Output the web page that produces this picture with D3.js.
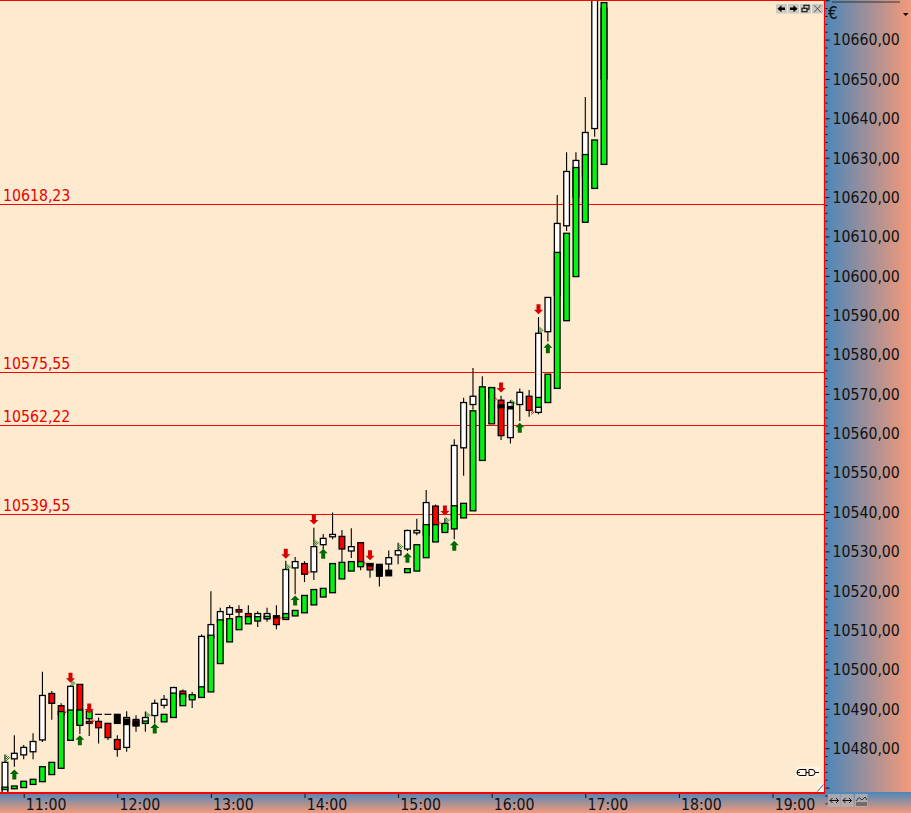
<!DOCTYPE html>
<html>
<head>
<meta charset="utf-8">
<style>
html,body{margin:0;padding:0;background:#fdeacf;overflow:hidden}
svg{display:block}
text{font-family:"DejaVu Sans Condensed","DejaVu Sans",sans-serif;font-stretch:condensed}
</style>
<script src="https://cdn.jsdelivr.net/npm/d3@7"></script>
</head>
<body>
<div id="chart"></div>
<script>
// Candle series 1 (with wicks): white up, red down
const s1Open  = [10468,10477.3,10478.3,10479.1,10482.1,10493.9,10490.8,10486,10496.2,10486.8,
                 10486.8,10486.3,10482.2,10480.2,10487.3,10486.5,10488.3,10490.9,10493,10494.5,
                 10493,10494,10508,10512,10514,10515.2,10514.2,10513.4,10512.9,10513.6,
                 10512.7,10525.8,10526.9,10524.8,10531.7,10533.7,10533.8,10530.1,10532.2,10526.9,
                 10526,10526.8,10529.1,10530.6,10534.7,10534,10541.5,10535.5,10538,10556.3,
                 10567.3,10566,10569,10568.4,10558.9,10567.3,10569.4,10565.3,10585.8,10595,
                 10612.7,10620,10625,10637.4,10650];
const s1High  = [10478.4,10483.3,10480.8,10483.8,10499.4,10494.5,10491.4,10496,10496.2,10489.7,
                 10487.8,10486.3,10483.3,10489.4,10488.4,10489.3,10492.4,10493.5,10495.6,10494.9,
                 10494.3,10508.9,10519.9,10515.7,10516.3,10516.3,10516.3,10514.8,10515.7,10516.3,
                 10527.6,10528.6,10527.5,10536,10534.4,10539.9,10535.4,10535.9,10532.2,10526.9,
                 10526.7,10530.2,10532.2,10535.5,10538.3,10545.6,10541.9,10538.4,10558.5,10569,
                 10576.6,10574.5,10571.6,10569.5,10568.4,10571.4,10571,10589.5,10594.5,10620.5,
                 10631.4,10631.4,10645.4,10675,10669];
const s1Low   = [10467,10475.3,10477.2,10477.2,10481.6,10487.2,10488,10486,10483.6,10483.1,
                 10481.2,10482.1,10477.8,10479.1,10484.2,10484.2,10486.3,10490.1,10492,10491,
                 10490.2,10493,10507,10511,10512.9,10513.4,10512,10510.8,10512.1,10510.2,
                 10512.7,10519.1,10522.2,10522.7,10530.6,10533.1,10527.2,10528.3,10525.2,10523.3,
                 10521.1,10524,10526.7,10530.1,10534.1,10533,10535,10534.8,10533.1,10549.2,
                 10566,10565,10568,10558.3,10557.4,10563.1,10564.2,10564.8,10583.3,10594,
                 10611.4,10619,10624,10635.3,10649];
const s1Close = [10476.4,10478.7,10480.2,10481.7,10493.4,10491.4,10488.5,10495.7,10486,10486.3,
                 10485.2,10482.7,10479.7,10487.8,10485.7,10487.8,10491.4,10492.4,10495.4,10493,
                 10493.3,10508.4,10511.4,10514.7,10515.7,10514.6,10513.4,10514.2,10514.2,10511.4,
                 10525.4,10527.4,10524.2,10531.2,10533.3,10534.3,10530.6,10531.2,10527,10525.3,
                 10525,10528.4,10530.2,10535.3,10535.3,10542.4,10536,10537,10556.9,10567.8,
                 10569.4,10571,10571.6,10559.4,10567.8,10570.4,10565.8,10585.4,10594.5,10613.3,
                 10626.5,10629.3,10636.4,10672,10668];
// Candle series 2 (no wicks): green up, black down
const s2Open  = [10469.5,10469.7,10470,10470.8,10471.5,10473.3,10474.9,10482,10485.8,10487.5,
                 10488.6,10488.6,10488.6,10487.4,10486.9,10486.3,10486.7,10486.7,10487.8,10490.8,
                 10492.3,10492.9,10494.3,10501.5,10507,10510.1,10511.6,10512.3,10512.9,10513.6,
                 10513.1,10513.6,10514.4,10516.4,10518.4,10519.5,10523,10525,10526.1,10526.9,
                 10526.7,10525.2,10524.8,10524.6,10525,10528.4,10532.4,10534.8,10535.7,10538.5,
                 10540.3,10553.1,10562.4,10567.2,10566.8,10566.4,10566.4,10566.6,10567.8,10571.4,
                 10588.6,10599.8,10613.6,10622.2,10628.3];
const s2Close = [10470.1,10470.4,10471.6,10472.1,10475.3,10476.4,10489.3,10489.7,10489.7,10489.4,
                 10488.6,10488.6,10486.3,10486,10485.7,10486.9,10486.7,10488.6,10494,10493.8,
                 10493.6,10495.6,10508.7,10512.6,10512.9,10513.4,10513.4,10513.4,10513.5,10513.1,
                 10514.2,10515,10518.8,10520.3,10520.6,10526.9,10527.2,10527.4,10527.4,10526.3,
                 10523.7,10523.8,10524.8,10525.6,10531.7,10536.8,10536.8,10537.1,10541.6,10542.2,
                 10565.7,10571.8,10571.6,10566.5,10566.2,10566.4,10566.4,10569.1,10575,10605.95,
                 10610.8,10627.5,10630.8,10634.5,10669.4];

// Signal arrows and small chequered markers: bar index and price
const upArrowBars     = [1,8,16,31,34,43,48,55,58];
const upArrowPrices   = [10473.3,10482,10485,10517.5,10529.4,10528.4,10531.4,10561.4,10581.6];
const downArrowBars   = [7,9,30,33,39,47,53,57];
const downArrowPrices = [10497.9,10490.1,10529.4,10538.1,10529,10540.4,10571.6,10591.5];
const greenMarkBars   = [0,7,15,30,33,42,47,54,57];
const greenMarkPrices = [10477.5,10496.5,10488.4,10526,10532.1,10531.1,10537.9,10567.7,10586.2];
const redMarkBars     = [6,9,29,32,38,46,52,56];
const redMarkPrices   = [10489.2,10486.9,10513.1,10524.7,10527,10537.2,10568.7,10565.4];

// Horizontal levels and their captions
const levelValues = [10618.23,10575.55,10562.22,10539.55];
const levelLabels = ["10618,23","10575,55","10562,22","10539,55"];

// Axis ticks
const hourLabels = ["11:00","12:00","13:00","14:00","15:00","16:00","17:00","18:00","19:00"];
const priceTicks = d3.range(10480,10661,10);

const W=911,H=813,plotR=824,plotB=792;
const fontName='"DejaVu Sans Condensed","DejaVu Sans",sans-serif';
const t0=new Date(Date.UTC(2020,0,1,11,0));
const barTime=i=>d3.utcMinute.offset(t0,(i-2)*6);
const hourTimes=hourLabels.map(h=>new Date(Date.UTC(2020,0,1,+h.slice(0,2),0)));
const x=d3.scaleUtc().domain([t0,hourTimes[8]]).range([23.7,772.5]);
const y=d3.scaleLinear().domain([10480,10660]).range([748.2,39.6]);

const svg=d3.select("#chart").append("svg").attr("width",W).attr("height",H);
const defs=svg.append("defs");
const gh=defs.append("linearGradient").attr("id","gh").attr("x1",0).attr("x2",1).attr("y1",0).attr("y2",0);
gh.append("stop").attr("offset",0).attr("stop-color","#4a86ba");
gh.append("stop").attr("offset",1).attr("stop-color","#f59a78");
const gv=defs.append("linearGradient").attr("id","gv").attr("x1",0).attr("x2",0).attr("y1",0).attr("y2",1);
gv.append("stop").attr("offset",0).attr("stop-color","#4a86ba");
gv.append("stop").attr("offset",1).attr("stop-color","#f59a78");
defs.append("clipPath").attr("id","plot").append("rect").attr("width",plotR).attr("height",plotB);
["#007a00","#e00000"].forEach((c,k)=>{
  const p=defs.append("pattern").attr("id","chk"+k).attr("width",2).attr("height",2).attr("patternUnits","userSpaceOnUse");
  p.append("rect").attr("width",1).attr("height",1).attr("fill",c);
  p.append("rect").attr("x",1).attr("y",1).attr("width",1).attr("height",1).attr("fill",c);
});

svg.append("rect").attr("width",plotR).attr("height",plotB).attr("fill","#fdeacf");
svg.append("rect").attr("x",plotR).attr("width",W-plotR).attr("height",plotB+1).attr("fill","url(#gh)");
svg.append("rect").attr("y",plotB).attr("width",W).attr("height",H-plotB).attr("fill","url(#gv)");

const plot=svg.append("g").attr("clip-path","url(#plot)");

// level lines
plot.selectAll("line.level").data(levelValues).join("line").attr("class","level")
  .attr("x1",0).attr("x2",plotR).attr("y1",d=>Math.round(y(d))+.5).attr("y2",d=>Math.round(y(d))+.5)
  .attr("stroke","#ff0000").attr("stroke-width",1);
svg.selectAll("text.level").data(levelLabels).join("text").attr("class","level")
  .attr("x",3).attr("y",(d,i)=>y(levelValues[i])-3)
  .attr("fill","#e80000").attr("font-size",15.7).text(d=>d);

const idx=d3.range(s1Open.length);
const bw=5.7;
// wicks
plot.selectAll("line.wick").data(idx).join("line").attr("class","wick")
  .attr("x1",i=>x(barTime(i))).attr("x2",i=>x(barTime(i)))
  .attr("y1",i=>y(s1High[i])).attr("y2",i=>y(s1Low[i]))
  .attr("stroke","#000").attr("stroke-width",1.1);
// series 1 bodies
plot.selectAll("rect.s1").data(idx).join("rect").attr("class","s1")
  .attr("x",i=>x(barTime(i))-bw/2).attr("width",bw)
  .attr("y",i=>y(Math.max(s1Open[i],s1Close[i])))
  .attr("height",i=>Math.abs(y(s1Open[i])-y(s1Close[i])))
  .attr("fill",i=>s1Close[i]>=s1Open[i]?"#ffffff":"#ff0000")
  .attr("stroke","#000").attr("stroke-width",1.3);
// series 2 bodies
plot.selectAll("rect.s2").data(idx).join("rect").attr("class","s2")
  .attr("x",i=>x(barTime(i))-bw/2).attr("width",bw)
  .attr("y",i=>y(Math.max(s2Open[i],s2Close[i])))
  .attr("height",i=>Math.abs(y(s2Open[i])-y(s2Close[i])))
  .attr("fill",i=>s2Close[i]>s2Open[i]?"#00f410":"#000000")
  .attr("stroke",i=>s2Close[i]===s2Open[i]&&i<12?"none":"#000").attr("stroke-width",1.3);
// doji pair
plot.selectAll("line.doji").data(idx.filter(i=>s2Open[i]===s2Close[i]&&i<12)).join("line").attr("class","doji")
  .attr("x1",i=>x(barTime(i))-bw/2-.6).attr("x2",i=>x(barTime(i))+bw/2+.6)
  .attr("y1",i=>y(s2Open[i])).attr("y2",i=>y(s2Open[i]))
  .attr("stroke","#000").attr("stroke-width",1.2);

// arrows
const upPath="M0,-5 L4.5,-0.5 L2,-0.5 L2,5 L-2,5 L-2,-0.5 L-4.5,-0.5 Z";
const dnPath="M0,5 L4.5,0.5 L2,0.5 L2,-5 L-2,-5 L-2,0.5 L-4.5,0.5 Z";
plot.selectAll("path.up").data(upArrowBars).join("path").attr("class","up")
  .attr("d",upPath).attr("fill","#006a00")
  .attr("transform",(b,k)=>`translate(${x(barTime(b))},${y(upArrowPrices[k])})`);
plot.selectAll("path.dn").data(downArrowBars).join("path").attr("class","dn")
  .attr("d",dnPath).attr("fill","#d80000")
  .attr("transform",(b,k)=>`translate(${x(barTime(b))},${y(downArrowPrices[k])})`);
// chequered markers
plot.selectAll("path.gm").data(greenMarkBars).join("path").attr("class","gm")
  .attr("d","M-2.5,-4 L2.5,0 L-2.5,4 Z").attr("fill","url(#chk0)")
  .attr("transform",(b,k)=>`translate(${x(barTime(b))+3},${y(greenMarkPrices[k])})`);
plot.selectAll("path.rm").data(redMarkBars).join("path").attr("class","rm")
  .attr("d","M-2,-3 L2,0 L-2,3 Z").attr("fill","url(#chk1)")
  .attr("transform",(b,k)=>`translate(${x(barTime(b))+4},${y(redMarkPrices[k])})`);

// plot frame
svg.append("line").attr("x1",0).attr("x2",plotR+1).attr("y1",.5).attr("y2",.5).attr("stroke","#ff0000");
svg.append("line").attr("x1",plotR+.5).attr("x2",plotR+.5).attr("y1",0).attr("y2",plotB+2).attr("stroke","#ff0000").attr("stroke-width",1.2);
svg.append("line").attr("x1",0).attr("x2",plotR+1).attr("y1",plotB+1).attr("y2",plotB+1).attr("stroke","#ff0000").attr("stroke-width",2);

// price axis
const minorTicks=d3.range(10466,10672,2).filter(v=>v%10!==0);
const yMinor=d3.axisRight(y).tickValues(minorTicks).tickSize(2).tickFormat("");
svg.append("g").attr("transform",`translate(${plotR+1.5},0)`).call(yMinor)
  .call(g=>g.select(".domain").remove()).selectAll("line").attr("stroke","#111");
const yMajor=d3.axisRight(y).tickValues(d3.range(10470,10671,10)).tickSize(4)
  .tickPadding(2)
  .tickFormat(d=>priceTicks.includes(d)?d3.format(".2f")(d).replace(".",","):"");
const yg=svg.append("g").attr("transform",`translate(${plotR+1.5},0)`).call(yMajor);
yg.select(".domain").remove();
yg.selectAll("line").attr("stroke","#111");
yg.selectAll("text").attr("font-family",fontName).attr("font-size",15.7).attr("fill","#111").attr("x",7).attr("dy","0.34em");

// time axis
const xa=d3.axisBottom(x).tickValues(hourTimes).tickSize(4).tickPadding(2).tickFormat((d,i)=>hourLabels[i]);
const xg=svg.append("g").attr("transform",`translate(0,${plotB+2})`).call(xa);
xg.select(".domain").remove();
xg.selectAll("line").attr("stroke","#111");
xg.selectAll("text").attr("font-family",fontName).attr("font-size",15.7).attr("fill","#111").attr("dx",22).attr("dy","0.62em");

// currency symbol and drop-down mark
svg.append("text").attr("x",828).attr("y",19).attr("font-size",17).attr("fill","#111").text("€");
svg.append("path").attr("d","M903,13 L908.5,13 L905.75,16 Z").attr("fill","#000");
svg.append("line").attr("x1",832).attr("x2",900).attr("y1",2).attr("y2",2).attr("stroke","#333").attr("stroke-width",1);

// window buttons
const btnX=[776,788,800,812];
btnX.forEach((bx,k)=>{
  svg.append("rect").attr("x",bx).attr("y",4).attr("width",11).attr("height",9.5).attr("fill","#cdc9c0");
  const g=svg.append("g").attr("transform",`translate(${bx+5.5},8.75)`);
  if(k===0) g.append("path").attr("d","M-4,0 L0,-3.5 L0,-1.2 L3.5,-1.2 L3.5,1.2 L0,1.2 L0,3.5 Z").attr("fill","#000");
  if(k===1) g.append("path").attr("d","M4,0 L0,-3.5 L0,-1.2 L-3.5,-1.2 L-3.5,1.2 L0,1.2 L0,3.5 Z").attr("fill","#000");
  if(k===2){ g.append("rect").attr("x",-1.5).attr("y",-3.5).attr("width",5).attr("height",4).attr("fill","none").attr("stroke","#000");
             g.append("rect").attr("x",-3.5).attr("y",-0.5).attr("width",5).attr("height",3.5).attr("fill","#cdc9c0").attr("stroke","#000");}
  if(k===3) g.append("path").attr("d","M-3.5,-3.5 L3.5,3.5 M3.5,-3.5 L-3.5,3.5").attr("stroke","#333").attr("stroke-width",.8);
});

// plug icon
svg.append("rect").attr("x",796).attr("y",767).attr("width",24).attr("height",11).attr("fill","#fff4e4");
svg.append("path").attr("d","M797,772.5 L800,772.5 M800,769.5 A3,3 0 0 0 800,775.5 L806,775.5 L806,769.5 Z M806,772.5 L809,772.5 M809,769.5 L812,769.5 A3,3 0 0 1 812,775.5 L809,775.5 Z M815,772.5 L819,772.5")
  .attr("fill","none").attr("stroke","#000").attr("stroke-width",1);
// resize corner
svg.append("rect").attr("x",817).attr("y",784).attr("width",7).attr("height",8).attr("fill","#f4f2ee");
svg.append("line").attr("x1",817.5).attr("y1",791.5).attr("x2",823.5).attr("y2",784.5).attr("stroke","#555");

// bottom-right buttons
const btn2=[828,841,855];
btn2.forEach((bx,k)=>{
  svg.append("rect").attr("x",bx).attr("y",794).attr("width",12.5).attr("height",13).attr("fill","#b9b2b2").attr("fill-opacity",.75);
  if(k<2){
    svg.append("path").attr("d",`M${bx+2},800.5 L${bx+10.5},800.5 M${bx+4.5},798 L${bx+2},800.5 L${bx+4.5},803 M${bx+8},798 L${bx+10.5},800.5 L${bx+8},803`)
      .attr("fill","none").attr("stroke","#111");
  } else {
    svg.append("path").attr("d",`M${bx+1},801 L${bx+4},797.5 L${bx+7},800 L${bx+10},797 L${bx+12},800 M${bx+1},803 L${bx+12},803 M${bx+1},805 L${bx+12},805`)
      .attr("fill","none").attr("stroke","#222").attr("stroke-width",.9);
  }
});
</script>
</body>
</html>
